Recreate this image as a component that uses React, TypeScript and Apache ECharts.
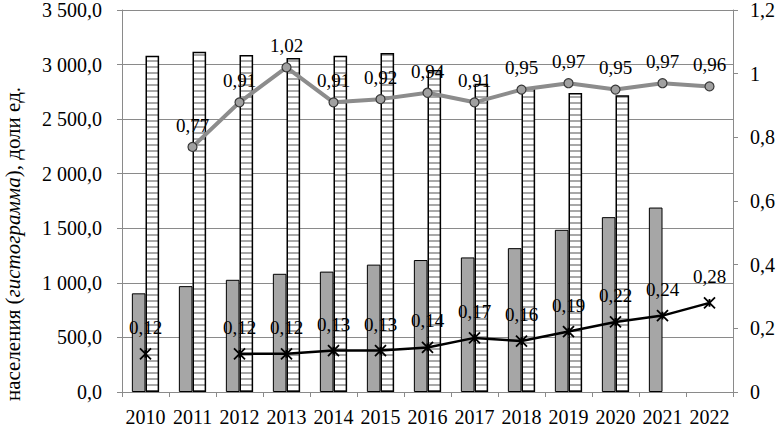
import React, { useEffect, useRef } from "react";
import * as echarts from "echarts";

const years = ["2010", "2011", "2012", "2013", "2014", "2015", "2016", "2017", "2018", "2019", "2020", "2021", "2022"];
const grayBars = [904, 970, 1028, 1083, 1103, 1167, 1209, 1233, 1318, 1486, 1602, 1690, null];
const hatchedBars = [3081, 3117, 3087, 3060, 3081, 3105, 2950, 2825, 2790, 2740, 2720, null, null];
const grayLine = [null, 0.77, 0.91, 1.02, 0.91, 0.92, 0.94, 0.91, 0.95, 0.97, 0.95, 0.97, 0.96];
const blackLine = [0.12, null, 0.12, 0.12, 0.13, 0.13, 0.14, 0.17, 0.16, 0.19, 0.22, 0.24, 0.28];

const FONT = "'Liberation Serif', 'Times New Roman', 'DejaVu Serif', serif";
const FS_AXIS = 20;
const FS_LABEL = 19;

function fmtLeft(v: number): string {
  const s = v.toFixed(1).replace(".", ",");
  const [ip, dp] = s.split(",");
  const withSpace = ip.replace(/\B(?=(\d{3})+(?!\d))/g, " ");
  return withSpace + "," + dp;
}
function fmtRight(v: number): string {
  const r = Math.round(v * 10) / 10;
  return String(r).replace(".", ",");
}
function fmtVal(v: number): string {
  return v.toFixed(2).replace(".", ",");
}

function makeStripes(): HTMLCanvasElement {
  const c = document.createElement("canvas");
  c.width = 8;
  c.height = 6;
  const ctx = c.getContext("2d")!;
  ctx.fillStyle = "#ffffff";
  ctx.fillRect(0, 0, 8, 6);
  ctx.fillStyle = "#a8a8a8";
  ctx.fillRect(0, 0, 8, 2);
  return c;
}

export default function App() {
  const ref = useRef<HTMLDivElement>(null);
  useEffect(() => {
    document.body.style.margin = "0";
    if (!ref.current) return;
    const chart = echarts.init(ref.current, undefined, { renderer: "svg" });
    const axisGray = "#8a8a8a";
    const axisText = { fontFamily: FONT, fontSize: FS_AXIS, color: "#000" };
    const labelStyle = { fontFamily: FONT, fontSize: FS_LABEL, color: "#000", textBorderWidth: 0 };
    chart.setOption({
      animation: false,
      backgroundColor: "#ffffff",
      textStyle: { fontFamily: FONT },
      grid: { left: 122, right: 43, top: 7, bottom: 33, containLabel: false },
      xAxis: {
        type: "category",
        data: years,
        boundaryGap: true,
        axisLine: { show: true, lineStyle: { color: axisGray, width: 1 } },
        axisTick: { show: true, alignWithLabel: false, length: 5, lineStyle: { color: axisGray } },
        axisLabel: { ...axisText, interval: 0, margin: 15 },
        splitLine: { show: false },
      },
      yAxis: [
        {
          type: "value",
          min: 0,
          max: 3500,
          interval: 500,
          axisLine: { show: true, lineStyle: { color: axisGray, width: 1 } },
          axisTick: { show: true, length: 5, lineStyle: { color: axisGray } },
          axisLabel: { ...axisText, margin: 20, formatter: (v: number) => fmtLeft(v) },
          splitLine: { show: true, lineStyle: { color: axisGray, width: 1 } },
        },
        {
          type: "value",
          min: 0,
          max: 1.2,
          interval: 0.2,
          position: "right",
          axisLine: { show: true, lineStyle: { color: axisGray, width: 1 } },
          axisTick: { show: true, length: 5, lineStyle: { color: axisGray } },
          axisLabel: { ...axisText, margin: 17, formatter: (v: number) => fmtRight(v) },
          splitLine: { show: false },
        },
      ],
      graphic: [
        {
          type: "text",
          x: 13,
          y: 244,
          rotation: Math.PI / 2,
          style: {
            text: "населения ({i|гистограмма}), доли ед.",
            fontFamily: FONT,
            fontSize: 21,
            fill: "#000",
            align: "center",
            verticalAlign: "middle",
            rich: {
              i: { fontStyle: "italic", fontFamily: FONT, fontSize: 21, fill: "#000" },
            },
          },
        },
      ],
      series: [
        {
          type: "bar",
          yAxisIndex: 0,
          data: grayBars,
          barGap: "0%",
          barCategoryGap: "42%",
          itemStyle: { color: "#a6a6a6", borderColor: "#000", borderWidth: 1 },
          z: 2,
        },
        {
          type: "bar",
          yAxisIndex: 0,
          data: hatchedBars,
          barGap: "0%",
          barCategoryGap: "42%",
          itemStyle: {
            color: { image: makeStripes(), repeat: "repeat" },
            borderColor: "#000",
            borderWidth: 1.5,
          },
          z: 2,
        },
        {
          type: "line",
          yAxisIndex: 1,
          data: grayLine,
          connectNulls: false,
          symbol: "circle",
          symbolSize: 9,
          lineStyle: { color: "#8c8c8c", width: 4 },
          itemStyle: { color: "#a0a0a0", borderColor: "#3a3a3a", borderWidth: 1.2 },
          label: {
            show: true,
            position: "top",
            distance: 7,
            ...labelStyle,
            formatter: (p: any) => fmtVal(p.value),
          },
          z: 5,
        },
        {
          type: "line",
          yAxisIndex: 1,
          data: blackLine,
          connectNulls: false,
          symbol: "path://M0,0L10,10M10,0L0,10M5,1.5L5,8.5",
          symbolSize: 11,
          lineStyle: { color: "#000", width: 2.5 },
          itemStyle: { color: "none", borderColor: "#000", borderWidth: 1.8 },
          label: {
            show: true,
            position: "top",
            distance: 9,
            ...labelStyle,
            formatter: (p: any) => fmtVal(p.value),
          },
          z: 5,
        },
      ],
    });
    return () => chart.dispose();
  }, []);
  return <div ref={ref} style={{ width: 778, height: 427 }} />;
}
